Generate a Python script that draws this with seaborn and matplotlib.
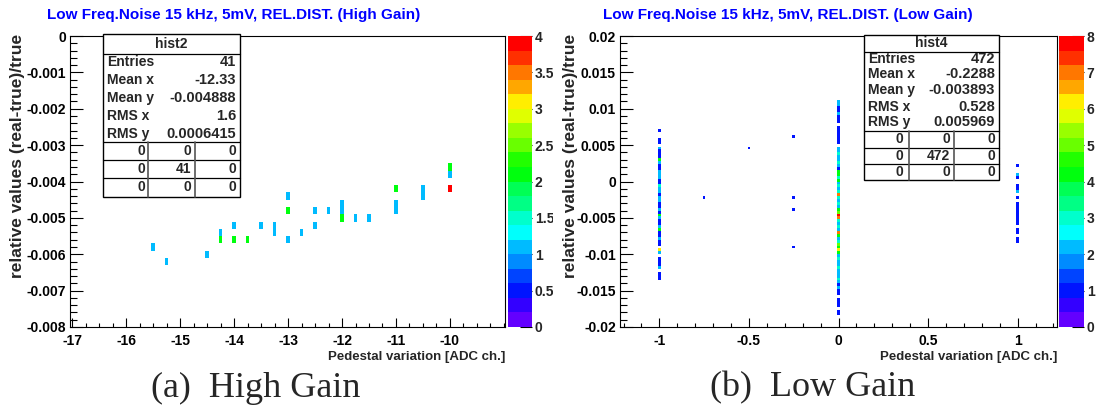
import colorsys
import numpy as np
import pandas as pd
import matplotlib
matplotlib.use("Agg")
import matplotlib.pyplot as plt
import seaborn as sns
from matplotlib.colors import ListedColormap, Normalize
from matplotlib.cm import ScalarMappable
from matplotlib.ticker import MultipleLocator, FuncFormatter
from matplotlib.transforms import Bbox, TransformedBbox
from matplotlib.patches import Rectangle
from matplotlib.lines import Line2D

# ---------------- data ----------------
# High gain: cells (x, y, count)
hg_x = [-15.5, -15.25, -14.5, -14.25, -14.25, -14.0, -14.0, -13.75, -13.5,
        -13.25, -13.25, -13.0, -13.0, -13.0, -12.75, -12.5, -12.5, -12.25,
        -12.0, -12.0, -12.0, -11.75, -11.5, -11.0, -11.0, -11.0, -10.5, -10.5,
        -10.0, -10.0, -10.0]
hg_y = [-0.0058, -0.0062, -0.0060, -0.0054, -0.0056, -0.0052, -0.0056, -0.0056, -0.0052,
        -0.0052, -0.0054, -0.0044, -0.0048, -0.0056, -0.0054, -0.0048, -0.0052, -0.0048,
        -0.0046, -0.0048, -0.0050, -0.0050, -0.0050, -0.0042, -0.0046, -0.0048, -0.0042, -0.0044,
        -0.0036, -0.0038, -0.0042]
hg_n = [1, 1, 1, 1, 2, 1, 2, 2, 1,
        1, 1, 1, 2, 1, 1, 1, 1, 1,
        1, 1, 2, 1, 1, 2, 1, 1, 1, 1,
        2, 1, 4]

# Low gain: columns of cells
lg_m1_y = [0.0070, 0.0058, 0.0054, 0.0046, 0.0042, 0.0038, 0.0034, 0.0030, 0.0026, 0.0022,
           0.0018, 0.0014, 0.0010, 0.0006, 0.0002, -0.0002, -0.0006, -0.0010, -0.0014, -0.0018,
           -0.0022, -0.0026, -0.0030, -0.0034, -0.0038, -0.0042, -0.0046, -0.0050, -0.0054, -0.0058,
           -0.0062, -0.0066, -0.0070, -0.0074, -0.0078, -0.0082, -0.0086, -0.0094, -0.0098, -0.0106,
           -0.0110, -0.0114, -0.0118, -0.0126, -0.0130, -0.0134]
lg_m1_n = [1, 1, 1, 2, 1, 1, 1, 4, 2, 1,
           1, 2, 2, 2, 1, 1, 3, 2, 2, 1,
           2, 2, 1, 1, 2, 1, 4, 2, 1, 1,
           2, 4, 1, 1, 2, 1, 1, 6, 2, 1,
           1, 1, 2, 1, 1, 1]
lg_m075_y = [-0.0022]
lg_m075_n = [1]
lg_m05_y = [0.0046]
lg_m05_n = [1]
lg_m025_y = [0.0062, -0.0022, -0.0038, -0.0090]
lg_m025_n = [1, 1, 1, 1]
lg_0_y = [0.0110, 0.0106, 0.0102, 0.0098, 0.0094, 0.0090, 0.0086, 0.0082, 0.0074, 0.0070,
          0.0066, 0.0062, 0.0058, 0.0054, 0.0046, 0.0042, 0.0038, 0.0034, 0.0030, 0.0026,
          0.0022, 0.0018, 0.0014, 0.0010, 0.0006, 0.0002, -0.0002, -0.0006, -0.0010, -0.0014,
          -0.0018, -0.0022, -0.0026, -0.0030, -0.0034, -0.0038, -0.0042, -0.0046, -0.0050, -0.0054,
          -0.0058, -0.0062, -0.0066, -0.0070, -0.0074, -0.0078, -0.0082, -0.0086, -0.0090, -0.0094,
          -0.0098, -0.0102, -0.0106, -0.0110, -0.0114, -0.0118, -0.0122, -0.0126, -0.0130, -0.0134,
          -0.0138, -0.0142, -0.0146, -0.0150, -0.0154, -0.0162, -0.0166, -0.0170, -0.0178, -0.0182]
lg_0_n = [2, 2, 1, 1, 2, 1, 1, 1, 1, 1,
          1, 1, 1, 1, 2, 2, 3, 2, 2, 3,
          2, 1, 4, 4, 3, 4, 2, 3, 2, 3,
          7, 3, 2, 3, 2, 4, 5, 8, 7, 3,
          2, 3, 2, 7, 4, 2, 3, 5, 4, 6,
          4, 2, 3, 2, 2, 3, 2, 2, 2, 3,
          2, 1, 2, 1, 1, 1, 1, 1, 1, 1]
lg_p1_y = [0.0022, 0.0010, 0.0006, -0.0006, -0.0010, -0.0014, -0.0022, -0.0030, -0.0034, -0.0038,
           -0.0042, -0.0046, -0.0050, -0.0054, -0.0058, -0.0066, -0.0070, -0.0078, -0.0082]
lg_p1_n = [1, 2, 1, 1, 1, 2, 1, 1, 1, 1,
           1, 1, 1, 1, 1, 1, 1, 1, 1]
lg_columns = [(-1.0, lg_m1_y, lg_m1_n), (-0.75, lg_m075_y, lg_m075_n),
              (-0.5, lg_m05_y, lg_m05_n), (-0.25, lg_m025_y, lg_m025_n),
              (0.0, lg_0_y, lg_0_n), (1.0, lg_p1_y, lg_p1_n)]

# texts
title_hg = "Low Freq.Noise 15 kHz, 5mV, REL.DIST. (High Gain)"
title_lg = "Low Freq.Noise 15 kHz, 5mV, REL.DIST. (Low Gain)"
ylabel = "relative values (real-true)/true"
xlabel = "Pedestal variation [ADC ch.]"
caption_hg = "(a)  High Gain"
caption_lg = "(b)  Low Gain"
stat_names = ["Entries", "Mean x", "Mean y", "RMS x", "RMS y"]
stat_hg = ["41", "-12.33", "-0.004888", "1.6", "0.0006415"]
stat_lg = ["472", "-0.2288", "-0.003893", "0.528", "0.005969"]
tab_hg = [["0", "0", "0"], ["0", "41", "0"], ["0", "0", "0"]]
tab_lg = [["0", "0", "0"], ["0", "472", "0"], ["0", "0", "0"]]
hg_xticks = [-17, -16, -15, -14, -13, -12, -11, -10]
hg_yticks = [0, -0.001, -0.002, -0.003, -0.004, -0.005, -0.006, -0.007, -0.008]
lg_xticks = [-1, -0.5, 0, 0.5, 1]
lg_yticks = [0.02, 0.015, 0.01, 0.005, 0, -0.005, -0.01, -0.015, -0.02]
hg_zmax = 4
lg_zmax = 8

# ---------------- style ----------------
sns.set_theme(style="ticks")
plt.rcParams['font.family'] = ['Liberation Sans', 'DejaVu Sans']
plt.rcParams['font.weight'] = 'bold'
plt.rcParams['axes.linewidth'] = 0.8

# ROOT "pretty" palette, 20 contour levels
pal = []
for i in range(20):
    j = int((i + 0.99) * 50 / 20)
    hue = 280 - (j + 1) * 5.6
    pal.append(colorsys.hls_to_rgb(hue / 360.0, 0.5, 1.0))
cmap = ListedColormap(pal)

W, H = 1113, 412
fig = plt.figure(figsize=(W / 100, H / 100), dpi=100)
fig.patch.set_facecolor("white")


def fx(px):
    return px / W


def fy(py):
    return 1 - py / H


AX_TOP, AX_BOT = 36, 327
ax1 = fig.add_axes([fx(70), fy(AX_BOT), (505 - 70) / W, (AX_BOT - AX_TOP) / H])
cax1 = fig.add_axes([fx(508), fy(AX_BOT), 24 / W, (AX_BOT - AX_TOP) / H])
ax2 = fig.add_axes([fx(620), fy(AX_BOT), (1057 - 620) / W, (AX_BOT - AX_TOP) / H])
cax2 = fig.add_axes([fx(1059), fy(AX_BOT), 25 / W, (AX_BOT - AX_TOP) / H])

# ---------- left histogram ----------
df_hg = pd.DataFrame({"x": hg_x, "y": hg_y, "n": hg_n})
ux = np.unique(df_hg["x"].to_numpy())
hg_xedges = np.sort(np.concatenate([ux - 0.032, ux + 0.032]))
hg_yedges = np.round(np.linspace(-0.0081, 0.0001, 42), 6)
sns.histplot(data=df_hg, x="x", y="y", weights="n", bins=[hg_xedges, hg_yedges],
             cmap=cmap, vmin=0, vmax=hg_zmax, ax=ax1, cbar=False)

# ---------- right histogram ----------
rows = []
for cx, ys, ns in lg_columns:
    for yv, nv in zip(ys, ns):
        rows.append((cx, yv, nv))
df_lg = pd.DataFrame(rows, columns=["x", "y", "n"])
ux2 = np.unique(df_lg["x"].to_numpy())
lg_xedges = np.sort(np.concatenate([ux2 - 0.007, ux2 + 0.007]))
lg_yedges = np.round(np.linspace(-0.02, 0.02, 101), 6)
sns.histplot(data=df_lg, x="x", y="y", weights="n", bins=[lg_xedges, lg_yedges],
             cmap=cmap, vmin=0, vmax=lg_zmax, ax=ax2, cbar=False)

gfmt = FuncFormatter(lambda v, p: "%g" % round(v, 6))


def style_axis(ax, xlim, ylim, xt, yt, xminor, yminor):
    ax.set_xlim(*xlim)
    ax.set_ylim(*ylim)
    ax.set_xlabel("")
    ax.set_ylabel("")
    ax.set_xticks(xt)
    ax.set_yticks(yt)
    ax.xaxis.set_minor_locator(MultipleLocator(xminor))
    ax.yaxis.set_minor_locator(MultipleLocator(yminor))
    ax.xaxis.set_major_formatter(gfmt)
    ax.yaxis.set_major_formatter(gfmt)
    ax.tick_params(axis="both", which="both", direction="in", top=False, right=False,
                   bottom=True, left=True,
                   color="black", width=0.8, labelsize=10, labelcolor="black")
    ax.tick_params(axis="x", which="major", length=6.5, pad=5)
    ax.tick_params(axis="x", which="minor", length=3.2)
    ax.tick_params(axis="y", which="major", length=9.4, pad=3)
    ax.tick_params(axis="y", which="minor", length=4.7)
    for s in ax.spines.values():
        s.set_visible(True)
        s.set_color("black")
        s.set_linewidth(0.8)
    for t in ax.get_xticklabels() + ax.get_yticklabels():
        t.set_fontweight("bold")
    ax.set_facecolor("white")


style_axis(ax1, (-17.04, -8.98), (-0.008, 0.0), hg_xticks, hg_yticks, 0.25, 0.0002)
style_axis(ax2, (-1.22, 1.22), (-0.02, 0.02), lg_xticks, lg_yticks, 0.1, 0.001)


def palette_axis(cax, zmax, step):
    sm = ScalarMappable(norm=Normalize(0, zmax), cmap=cmap)
    cb = fig.colorbar(sm, cax=cax)
    cb.outline.set_visible(False)
    cb.set_ticks(list(np.arange(0, zmax + step / 2, step)))
    cb.ax.yaxis.set_major_formatter(gfmt)
    cb.ax.tick_params(which="major", direction="in", length=9, width=0.8, color="black",
                      labelsize=10, pad=2, right=True, left=False)
    cb.ax.minorticks_off()
    for t in cb.ax.get_yticklabels():
        t.set_fontweight("bold")
    return cb


palette_axis(cax1, hg_zmax, 0.5)
palette_axis(cax2, lg_zmax, 1)

# ---------- titles and labels ----------
fig.text(fx(47), fy(15), title_hg, color="#0000ff", fontsize=11, fontweight="bold",
         ha="left", va="center")
fig.text(fx(603), fy(15), title_lg, color="#0000ff", fontsize=11, fontweight="bold",
         ha="left", va="center")
for xl, xr in [(18, 505), (570, 1057)]:
    fig.text(fx(xl), fy(34), ylabel, rotation=90, fontsize=12.5, fontweight="bold",
             ha="center", va="top")
    fig.text(fx(xr), fy(357), xlabel, fontsize=9.5, fontweight="bold", ha="right", va="center")
fig.text(fx(256), fy(388), caption_hg, family=["Liberation Serif"], fontweight="normal",
         fontsize=26, ha="center", va="center")
fig.text(fx(813), fy(388), caption_lg, family=["Liberation Serif"], fontweight="normal",
         fontsize=26, ha="center", va="center")


# ---------- stats boxes ----------
def hline(x0, x1, y, lw=0.9, color="black"):
    fig.add_artist(Line2D([fx(x0), fx(x1)], [fy(y), fy(y)], transform=fig.transFigure,
                          color=color, lw=lw, zorder=21))


def vline(x, y0, y1, lw=0.9, color="black"):
    fig.add_artist(Line2D([fx(x), fx(x)], [fy(y0), fy(y1)], transform=fig.transFigure,
                          color=color, lw=lw, zorder=21))


def stats_box(x0, x1, y0, y1, head, head_y, head_line, row_ys, vals, tab_lines, vxs,
              tab_ys, tab, col_right):
    fig.add_artist(Rectangle((fx(x0), fy(y1)), fx(x1) - fx(x0), (y1 - y0) / H,
                             transform=fig.transFigure, facecolor="white",
                             edgecolor="black", lw=1.0, zorder=20))
    fig.text(fx((x0 + x1) / 2), fy(head_y), head, fontsize=10, fontweight="bold",
             ha="center", va="center", zorder=22)
    hline(x0, x1, head_line)
    for ry, nm, vv in zip(row_ys, stat_names, vals):
        fig.text(fx(x0 + 4), fy(ry), nm, fontsize=10, fontweight="bold",
                 ha="left", va="center", zorder=22)
        fig.text(fx(x1 - 4), fy(ry), vv, fontsize=10.5, fontweight="bold",
                 ha="right", va="center", zorder=22)
    for ly in tab_lines:
        hline(x0, x1, ly)
    for vx in vxs:
        vline(vx, tab_lines[0], y1, color="#555555", lw=1.2)
    for ty, trow in zip(tab_ys, tab):
        for cr, tv in zip(col_right, trow):
            fig.text(fx(cr), fy(ty), tv, fontsize=10, fontweight="bold",
                     ha="right", va="center", zorder=22)


stats_box(103, 240, 34, 197, "hist2", 44, 54, [62, 80, 98, 116, 134], stat_hg,
          [142, 160, 178], [148, 195], [151, 169, 187], tab_hg, [145, 191, 236])
stats_box(864, 999, 35, 180, "hist4", 43, 52, [59, 74, 90, 107, 122], stat_lg,
          [131, 148, 164], [909, 954], [139, 156, 172], tab_lg, [903, 950, 995])

# clip left palette labels at the sub-figure border
fig.canvas.draw()
clipbox = TransformedBbox(Bbox.from_extents(0, 0, fx(553), 1), fig.transFigure)
for t in cax1.get_yticklabels():
    t.set_clip_on(True)
    t.set_clip_box(clipbox)

fig.savefig("out.png", dpi=100, facecolor="white")
